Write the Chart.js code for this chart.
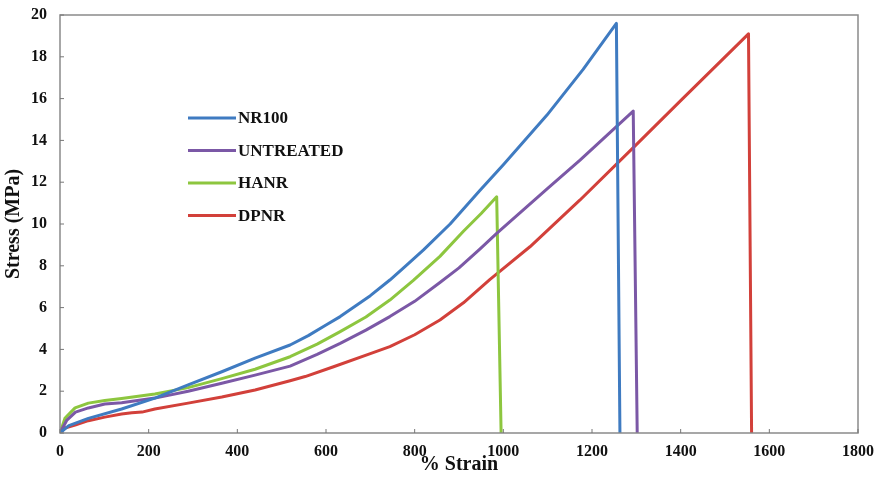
<!DOCTYPE html>
<html>
<head>
<meta charset="utf-8">
<script src="https://cdn.jsdelivr.net/npm/chart.js@4"></script>
<style>
  html, body { margin: 0; padding: 0; background: #fff; }
  #stressChart { display: block; }
</style>
</head>
<body>
<canvas id="stressChart" width="880" height="477"></canvas>
<script>
// values (% strain vs stress in MPa)
const seriesNames = ['NR100', 'UNTREATED', 'HANR', 'DPNR'];

const nr100Strain = [0, 20, 64, 139, 214, 289, 365, 440, 519, 560, 600, 632, 700, 744, 780, 820, 880, 947, 1000, 1098, 1180, 1255, 1263];
const nr100Stress = [0, 0.35, 0.7, 1.15, 1.67, 2.3, 2.93, 3.58, 4.21, 4.66, 5.17, 5.57, 6.57, 7.32, 8.0, 8.76, 10.0, 11.6, 12.83, 15.2, 17.4, 19.6, 0];

const untreatedStrain = [0, 15, 35, 64, 101, 139, 214, 289, 365, 440, 519, 580, 632, 690, 744, 800, 857, 900, 947, 985, 1100, 1173, 1293, 1302];
const untreatedStress = [0, 0.6, 1.0, 1.2, 1.39, 1.45, 1.67, 2.0, 2.38, 2.77, 3.2, 3.76, 4.29, 4.92, 5.57, 6.3, 7.2, 7.9, 8.8, 9.55, 11.7, 13.06, 15.4, 0];

const hanrStrain = [0, 11, 34, 64, 101, 139, 214, 289, 365, 440, 519, 580, 632, 690, 744, 797, 857, 910, 950, 985, 995];
const hanrStress = [0, 0.7, 1.2, 1.43, 1.55, 1.65, 1.87, 2.17, 2.6, 3.05, 3.65, 4.25, 4.85, 5.55, 6.36, 7.3, 8.45, 9.65, 10.5, 11.3, 0];

const dpnrStrain = [0, 11, 34, 64, 101, 139, 162, 185, 214, 289, 365, 440, 519, 553, 617, 700, 744, 800, 857, 910, 970, 1060, 1173, 1300, 1400, 1553, 1560];
const dpnrStress = [0, 0.24, 0.38, 0.59, 0.76, 0.91, 0.97, 1.0, 1.15, 1.43, 1.72, 2.06, 2.5, 2.7, 3.17, 3.8, 4.13, 4.7, 5.41, 6.23, 7.35, 8.91, 11.15, 13.8, 15.9, 19.1, 0];

const seriesColors = ['#3F7BC1', '#7B58A6', '#8DC63F', '#D2403A'];

const xTicks = { min: 0, max: 1800, step: 200 };
const yTicks = { min: 0, max: 20, step: 2 };

const serifBold = (size) => ({ family: "'Liberation Serif', 'Times New Roman', serif", size: size, weight: 'bold' });

function toPoints(xs, ys) {
    return xs.map((x, i) => ({ x: x, y: ys[i] }));
}

// frame + small inward tick marks like the original plot
const frameTicks = {
    id: 'frameTicks',
    afterDraw(chart) {
        const { ctx, chartArea: a, scales } = chart;
        ctx.save();
        ctx.strokeStyle = '#8a8a8a';
        ctx.lineWidth = 1.5;
        ctx.strokeRect(a.left, a.top, a.right - a.left, a.bottom - a.top);
        ctx.lineWidth = 1;
        ctx.strokeStyle = '#777';
        scales.x.ticks.forEach(t => {
            const px = scales.x.getPixelForValue(t.value);
            ctx.beginPath();
            ctx.moveTo(px, a.bottom);
            ctx.lineTo(px, a.bottom - 4);
            ctx.stroke();
        });
        scales.y.ticks.forEach(t => {
            const py = scales.y.getPixelForValue(t.value);
            ctx.beginPath();
            ctx.moveTo(a.left, py);
            ctx.lineTo(a.left + 4, py);
            ctx.stroke();
        });
        ctx.restore();
    }
};

// legend sits inside the plot, upper left
const insideLegend = {
    id: 'insideLegend',
    afterDraw(chart) {
        const { ctx, chartArea: a } = chart;
        const x0 = a.left + 128;
        const y0 = a.top + 103;
        const gap = 32.5;
        ctx.save();
        ctx.font = "bold 17px 'Liberation Serif', 'Times New Roman', serif";
        ctx.textBaseline = 'middle';
        ctx.fillStyle = '#111';
        chart.data.datasets.forEach((ds, i) => {
            const y = y0 + i * gap;
            ctx.strokeStyle = ds.borderColor;
            ctx.lineWidth = 3;
            ctx.beginPath();
            ctx.moveTo(x0, y);
            ctx.lineTo(x0 + 48, y);
            ctx.stroke();
            ctx.fillText(ds.label, x0 + 50, y + 1);
        });
        ctx.restore();
    }
};

const allStrain = [nr100Strain, untreatedStrain, hanrStrain, dpnrStrain];
const allStress = [nr100Stress, untreatedStress, hanrStress, dpnrStress];

const ctx = document.getElementById('stressChart');
new Chart(ctx, {
    type: 'line',
    data: {
        datasets: seriesNames.map((name, i) => ({
            label: name,
            data: toPoints(allStrain[i], allStress[i]),
            borderColor: seriesColors[i],
            backgroundColor: seriesColors[i],
            borderWidth: 3,
            pointRadius: 0,
            tension: 0,
            borderJoinStyle: 'round',
            fill: false
        }))
    },
    options: {
        responsive: false,
        animation: false,
        devicePixelRatio: 1,
        layout: { padding: { top: 15, right: 22, left: 0, bottom: 0 } },
        plugins: {
            legend: { display: false },
            tooltip: { enabled: false }
        },
        scales: {
            x: {
                type: 'linear',
                min: xTicks.min,
                max: xTicks.max,
                grid: { display: false, drawTicks: false },
                border: { display: false },
                ticks: { stepSize: xTicks.step, color: '#111', font: serifBold(16), padding: 9, maxRotation: 0,
                         callback: v => String(v) },
                title: { display: true, text: '% Strain', color: '#111', font: serifBold(20), padding: { top: 0, bottom: 0 } },
                afterFit(scale) { scale.height = 44; scale.paddingLeft = 0; scale.paddingRight = 0; }
            },
            y: {
                min: yTicks.min,
                max: yTicks.max,
                grid: { display: false, drawTicks: false },
                border: { display: false },
                ticks: { stepSize: yTicks.step, color: '#111', font: serifBold(16), padding: 13 },
                title: { display: true, text: 'Stress (MPa)', color: '#111', font: serifBold(20), padding: { top: 2, bottom: 0 } },
                afterFit(scale) { scale.width = 60; scale.paddingTop = 0; scale.paddingBottom = 0; }
            }
        }
    },
    plugins: [frameTicks, insideLegend]
});
</script>
</body>
</html>
